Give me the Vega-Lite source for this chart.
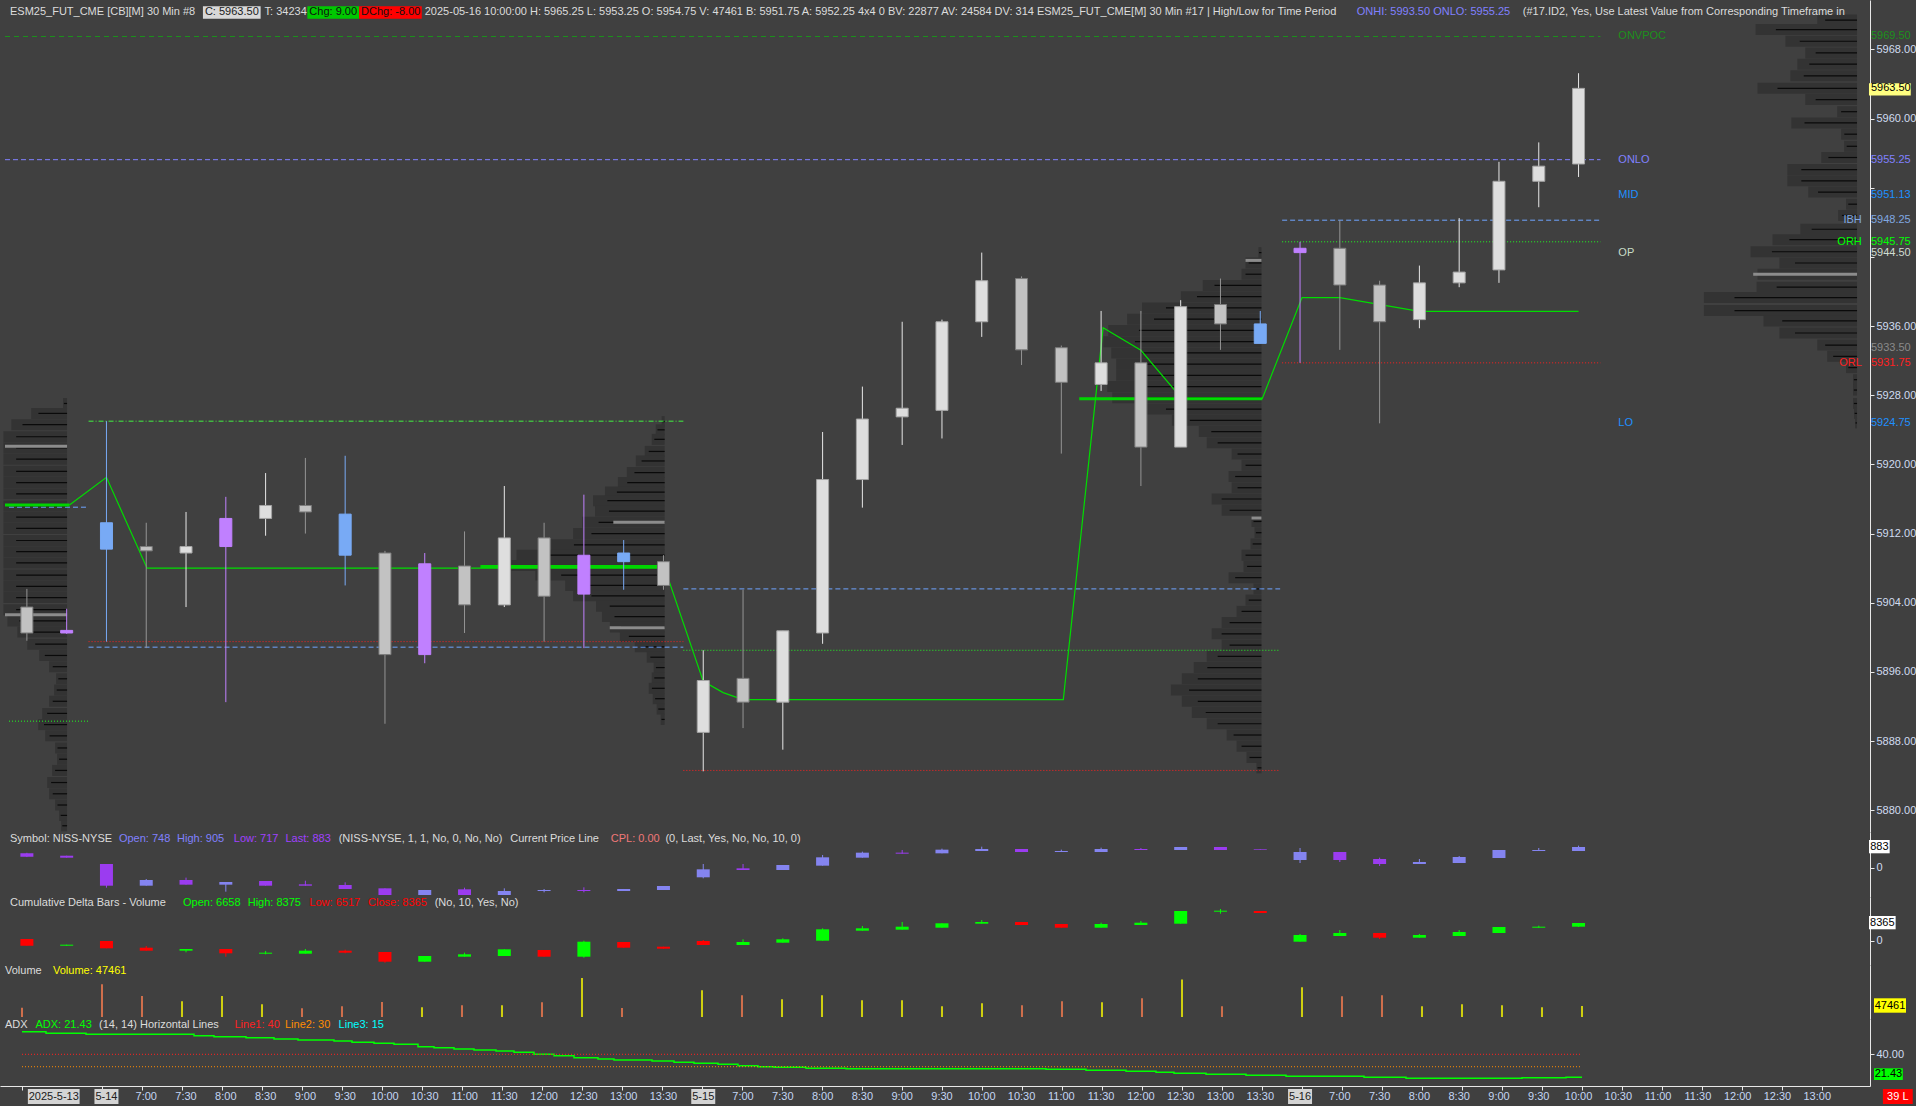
{
"$schema":"https://vega.github.io/schema/vega-lite/v6.json",
"background":"#404040",
"padding":0,
"autosize":{"type":"pad"},
"spacing":0,
"bounds":"flush",
"config":{"view":{"stroke":null},"text":{"font":"Liberation Sans","fontSize":11},
"axis":{"labelFont":"Liberation Sans","labelFontSize":11,"labelColor":"#d0dcf0","domainColor":"#e8e8e8","tickColor":"#e8e8e8","tickSize":4,"labelPadding":2,"grid":false,"labelOverlap":false,"labelFlush":false}},
"datasets":{
"candles":[
{"i":0,"o":5903.5,"h":5905.6,"l":5899.6,"c":5900.5,"k":"down"},
{"i":1,"o":5900.8,"h":5903.3,"l":5900.4,"c":5900.5,"k":"purple"},
{"i":2,"o":5910.2,"h":5925.0,"l":5899.5,"c":5913.25,"k":"blue"},
{"i":3,"o":5910.5,"h":5913.25,"l":5898.75,"c":5910.0,"k":"down"},
{"i":4,"o":5909.75,"h":5914.5,"l":5903.5,"c":5910.5,"k":"up"},
{"i":5,"o":5913.75,"h":5916.25,"l":5892.5,"c":5910.5,"k":"purple"},
{"i":6,"o":5913.75,"h":5919.0,"l":5911.75,"c":5915.25,"k":"up"},
{"i":7,"o":5915.25,"h":5920.75,"l":5912.0,"c":5914.5,"k":"down"},
{"i":8,"o":5909.5,"h":5921.0,"l":5906.0,"c":5914.25,"k":"blue"},
{"i":9,"o":5909.75,"h":5910.0,"l":5890.0,"c":5898.0,"k":"down"},
{"i":10,"o":5908.5,"h":5909.75,"l":5897.0,"c":5898.0,"k":"purple"},
{"i":11,"o":5908.25,"h":5912.25,"l":5900.5,"c":5903.75,"k":"down"},
{"i":12,"o":5903.75,"h":5917.5,"l":5903.5,"c":5911.5,"k":"up"},
{"i":13,"o":5911.5,"h":5913.25,"l":5899.5,"c":5904.75,"k":"down"},
{"i":14,"o":5909.5,"h":5916.5,"l":5898.75,"c":5905.0,"k":"purple"},
{"i":15,"o":5908.75,"h":5911.25,"l":5905.5,"c":5909.75,"k":"blue"},
{"i":16,"o":5908.75,"h":5909.5,"l":5905.5,"c":5906.0,"k":"down"},
{"i":17,"o":5889.0,"h":5898.5,"l":5884.5,"c":5895.0,"k":"up"},
{"i":18,"o":5895.25,"h":5905.5,"l":5889.5,"c":5892.5,"k":"down"},
{"i":19,"o":5892.5,"h":5900.75,"l":5887.0,"c":5900.75,"k":"up"},
{"i":20,"o":5900.5,"h":5923.75,"l":5899.25,"c":5918.25,"k":"up"},
{"i":21,"o":5918.25,"h":5929.0,"l":5915.0,"c":5925.25,"k":"up"},
{"i":22,"o":5925.5,"h":5936.5,"l":5922.25,"c":5926.5,"k":"up"},
{"i":23,"o":5926.25,"h":5936.75,"l":5923.0,"c":5936.5,"k":"up"},
{"i":24,"o":5936.5,"h":5944.5,"l":5934.75,"c":5941.25,"k":"up"},
{"i":25,"o":5941.5,"h":5941.75,"l":5931.5,"c":5933.25,"k":"down"},
{"i":26,"o":5933.5,"h":5933.75,"l":5921.25,"c":5929.5,"k":"down"},
{"i":27,"o":5929.25,"h":5937.75,"l":5928.5,"c":5931.75,"k":"up"},
{"i":28,"o":5931.75,"h":5937.75,"l":5917.5,"c":5922.0,"k":"down"},
{"i":29,"o":5922.0,"h":5939.0,"l":5922.0,"c":5938.25,"k":"up"},
{"i":30,"o":5938.5,"h":5941.5,"l":5933.25,"c":5936.25,"k":"down"},
{"i":31,"o":5936.25,"h":5937.75,"l":5934.0,"c":5934.0,"k":"blue"},
{"i":32,"o":5945.0,"h":5945.75,"l":5931.75,"c":5944.5,"k":"purple"},
{"i":33,"o":5945.0,"h":5948.25,"l":5933.25,"c":5940.75,"k":"down"},
{"i":34,"o":5940.75,"h":5941.25,"l":5924.75,"c":5936.5,"k":"down"},
{"i":35,"o":5936.75,"h":5943.0,"l":5935.75,"c":5941.0,"k":"up"},
{"i":36,"o":5941.0,"h":5948.5,"l":5940.5,"c":5942.25,"k":"up"},
{"i":37,"o":5942.5,"h":5955.0,"l":5941.0,"c":5952.75,"k":"up"},
{"i":38,"o":5952.75,"h":5957.25,"l":5949.75,"c":5954.5,"k":"up"},
{"i":39,"o":5954.75,"h":5965.25,"l":5953.25,"c":5963.5,"k":"up"}],
"niss":[
{"i":0,"o":618,"h":640,"l":460,"c":475,"k":"d"},
{"i":1,"o":517,"h":517,"l":433,"c":433,"k":"d"},
{"i":2,"o":168,"h":168,"l":-828,"c":-744,"k":"d"},
{"i":3,"o":-744,"h":-463,"l":-744,"c":-505,"k":"u"},
{"i":4,"o":-505,"h":-406,"l":-701,"c":-701,"k":"d"},
{"i":5,"o":-701,"h":-589,"l":-995,"c":-589,"k":"u"},
{"i":6,"o":-547,"h":-547,"l":-744,"c":-744,"k":"d"},
{"i":7,"o":-687,"h":-533,"l":-744,"c":-744,"k":"d"},
{"i":8,"o":-715,"h":-603,"l":-883,"c":-883,"k":"d"},
{"i":9,"o":-855,"h":-855,"l":-1135,"c":-1135,"k":"d"},
{"i":10,"o":-1135,"h":-925,"l":-1135,"c":-925,"k":"u"},
{"i":11,"o":-897,"h":-827,"l":-1135,"c":-1135,"k":"d"},
{"i":12,"o":-1135,"h":-855,"l":-1135,"c":-967,"k":"u"},
{"i":13,"o":-967,"h":-883,"l":-1023,"c":-925,"k":"u"},
{"i":14,"o":-925,"h":-813,"l":-1023,"c":-967,"k":"d"},
{"i":15,"o":-967,"h":-883,"l":-967,"c":-883,"k":"u"},
{"i":16,"o":-925,"h":-757,"l":-925,"c":-757,"k":"u"},
{"i":17,"o":-392,"h":168,"l":-434,"c":-56,"k":"u"},
{"i":18,"o":-14,"h":168,"l":-84,"c":-84,"k":"d"},
{"i":19,"o":-84,"h":126,"l":-84,"c":126,"k":"u"},
{"i":20,"o":98,"h":547,"l":98,"c":449,"k":"u"},
{"i":21,"o":434,"h":687,"l":434,"c":645,"k":"u"},
{"i":22,"o":645,"h":757,"l":603,"c":603,"k":"d"},
{"i":23,"o":617,"h":813,"l":617,"c":771,"k":"u"},
{"i":24,"o":715,"h":897,"l":715,"c":799,"k":"u"},
{"i":25,"o":799,"h":799,"l":673,"c":673,"k":"d"},
{"i":26,"o":673,"h":771,"l":673,"c":715,"k":"u"},
{"i":27,"o":673,"h":855,"l":673,"c":799,"k":"u"},
{"i":28,"o":799,"h":841,"l":757,"c":757,"k":"d"},
{"i":29,"o":757,"h":883,"l":757,"c":883,"k":"u"},
{"i":30,"o":883,"h":883,"l":757,"c":757,"k":"d"},
{"i":31,"o":799,"h":799,"l":771,"c":771,"k":"d"},
{"i":32,"o":336,"h":841,"l":210,"c":673,"k":"u"},
{"i":33,"o":673,"h":673,"l":252,"c":336,"k":"d"},
{"i":34,"o":378,"h":434,"l":84,"c":168,"k":"d"},
{"i":35,"o":168,"h":378,"l":168,"c":252,"k":"u"},
{"i":36,"o":210,"h":504,"l":210,"c":462,"k":"u"},
{"i":37,"o":420,"h":757,"l":420,"c":757,"k":"u"},
{"i":38,"o":715,"h":841,"l":715,"c":757,"k":"u"},
{"i":39,"o":715,"h":939,"l":715,"c":883,"k":"u"}],
"cd":[
{"i":0,"o":929,"h":929,"l":-2184,"c":-2184,"k":"d"},
{"i":1,"o":-2184,"h":-1719,"l":-2184,"c":-1719,"k":"u"},
{"i":2,"o":0,"h":0,"l":-3392,"c":-3392,"k":"d"},
{"i":3,"o":-3113,"h":-2324,"l":-4508,"c":-4508,"k":"d"},
{"i":4,"o":-4508,"h":-3718,"l":-5251,"c":-3718,"k":"u"},
{"i":5,"o":-3718,"h":-3718,"l":-7296,"c":-5716,"k":"d"},
{"i":6,"o":-5902,"h":-4647,"l":-6181,"c":-5437,"k":"u"},
{"i":7,"o":-5902,"h":-3718,"l":-5902,"c":-4508,"k":"u"},
{"i":8,"o":-4508,"h":-4043,"l":-5716,"c":-5437,"k":"d"},
{"i":9,"o":-5112,"h":-5112,"l":-10084,"c":-9619,"k":"d"},
{"i":10,"o":-9619,"h":-6970,"l":-9619,"c":-6970,"k":"u"},
{"i":11,"o":-7296,"h":-5437,"l":-7296,"c":-6181,"k":"u"},
{"i":12,"o":-6970,"h":-3857,"l":-6970,"c":-3857,"k":"u"},
{"i":13,"o":-4182,"h":-4182,"l":-7296,"c":-7296,"k":"d"},
{"i":14,"o":-7296,"h":139,"l":-7760,"c":-325,"k":"u"},
{"i":15,"o":-465,"h":-465,"l":-3113,"c":-3113,"k":"d"},
{"i":16,"o":-2649,"h":-2649,"l":-3578,"c":-3578,"k":"d"},
{"i":17,"o":0,"h":465,"l":-1859,"c":-1859,"k":"d"},
{"i":18,"o":-1859,"h":790,"l":-1859,"c":-465,"k":"u"},
{"i":19,"o":-790,"h":1255,"l":-790,"c":790,"k":"u"},
{"i":20,"o":139,"h":5902,"l":139,"c":5437,"k":"u"},
{"i":21,"o":4786,"h":6970,"l":4786,"c":5902,"k":"u"},
{"i":22,"o":5251,"h":8829,"l":5251,"c":6645,"k":"u"},
{"i":23,"o":6181,"h":8225,"l":6181,"c":8225,"k":"u"},
{"i":24,"o":8039,"h":9759,"l":8039,"c":8829,"k":"u"},
{"i":25,"o":8829,"h":8829,"l":7435,"c":7435,"k":"d"},
{"i":26,"o":7900,"h":7900,"l":6181,"c":6181,"k":"d"},
{"i":27,"o":6181,"h":8504,"l":6181,"c":7900,"k":"u"},
{"i":28,"o":7435,"h":9294,"l":7435,"c":8504,"k":"u"},
{"i":29,"o":8039,"h":13941,"l":8039,"c":13941,"k":"u"},
{"i":30,"o":13616,"h":14870,"l":12686,"c":14080,"k":"u"},
{"i":31,"o":13941,"h":13941,"l":13012,"c":13012,"k":"d"},
{"i":32,"o":-325,"h":3253,"l":-325,"c":2788,"k":"u"},
{"i":33,"o":2324,"h":5112,"l":2324,"c":3718,"k":"u"},
{"i":34,"o":3718,"h":3718,"l":929,"c":1534,"k":"d"},
{"i":35,"o":1534,"h":3253,"l":1534,"c":2788,"k":"u"},
{"i":36,"o":2324,"h":5112,"l":2324,"c":4182,"k":"u"},
{"i":37,"o":3718,"h":6506,"l":3718,"c":6506,"k":"u"},
{"i":38,"o":6181,"h":7110,"l":6181,"c":6645,"k":"u"},
{"i":39,"o":6658,"h":8375,"l":6517,"c":8365,"k":"u"}],
"vol":[
{"i":0,"v":40000,"k":"d"},{"i":2,"v":141000,"k":"d"},{"i":3,"v":90600,"k":"d"},{"i":4,"v":67600,"k":"u"},{"i":5,"v":90600,"k":"u"},{"i":6,"v":54700,"k":"u"},{"i":7,"v":37400,"k":"d"},{"i":8,"v":46000,"k":"d"},{"i":9,"v":64700,"k":"d"},{"i":10,"v":41700,"k":"u"},{"i":11,"v":50300,"k":"d"},{"i":12,"v":50300,"k":"u"},{"i":13,"v":63300,"k":"d"},{"i":14,"v":168000,"k":"u"},{"i":15,"v":38800,"k":"d"},
{"i":17,"v":115000,"k":"u"},{"i":18,"v":93500,"k":"d"},{"i":19,"v":76200,"k":"u"},{"i":20,"v":93500,"k":"u"},{"i":21,"v":71900,"k":"u"},{"i":22,"v":71900,"k":"u"},{"i":23,"v":46000,"k":"u"},{"i":24,"v":59000,"k":"u"},{"i":25,"v":50300,"k":"d"},{"i":26,"v":67600,"k":"d"},{"i":27,"v":63300,"k":"u"},{"i":28,"v":80400,"k":"d"},{"i":29,"v":162000,"k":"u"},{"i":30,"v":46000,"k":"d"},
{"i":32,"v":128000,"k":"u"},{"i":33,"v":89000,"k":"d"},{"i":34,"v":93500,"k":"d"},{"i":35,"v":46000,"k":"u"},{"i":36,"v":54700,"k":"u"},{"i":37,"v":50300,"k":"u"},{"i":38,"v":41700,"k":"u"},{"i":39,"v":47461,"k":"u"}],
"adx":[
{"i":0,"a":58.2},{"i":0.6,"a":56.9},{"i":1.6,"a":56.1},{"i":4.3,"a":55.0},{"i":4.8,"a":54.2},{"i":5.6,"a":53.4},{"i":6.3,"a":52.3},{"i":6.9,"a":51.5},{"i":7.8,"a":50.7},{"i":8.25,"a":49.7},{"i":8.8,"a":48.9},{"i":9.3,"a":48.1},{"i":9.9,"a":46.1},{"i":10.3,"a":45.3},{"i":10.8,"a":44.3},{"i":11.3,"a":43.5},{"i":11.85,"a":42.7},{"i":12.3,"a":41.6},{"i":12.8,"a":40.0},{"i":13.3,"a":38.9},{"i":13.8,"a":37.3},{"i":14.4,"a":36.2},{"i":14.8,"a":35.4},{"i":15.75,"a":34.6},{"i":16.3,"a":33.5},{"i":16.8,"a":32.7},{"i":17.4,"a":31.9},{"i":17.9,"a":30.8},{"i":18.4,"a":30.0},{"i":18.8,"a":29.5},{"i":19.6,"a":28.7},{"i":20.6,"a":28.3},{"i":25.6,"a":27.9},{"i":26.6,"a":27.1},{"i":27.6,"a":26.3},{"i":28.35,"a":25.5},{"i":28.8,"a":24.7},{"i":29.6,"a":23.9},{"i":30.6,"a":23.1},{"i":31.6,"a":22.3},{"i":33.55,"a":21.5},{"i":34.6,"a":20.7},{"i":37.5,"a":21.0},{"i":38.6,"a":21.43},{"i":39.0,"a":21.43}],
"poc":[
{"i":1.07,"p":5915.3},{"i":2.0,"p":5918.5},{"i":3.02,"p":5908.0},{"i":16.03,"p":5908.0},{"i":17.0,"p":5894.9},{"i":17.5,"p":5893.6},{"i":18.0,"p":5892.8},{"i":26.05,"p":5892.8},{"i":27.05,"p":5935.8},{"i":28.0,"p":5933.2},{"i":29.03,"p":5927.6},{"i":31.05,"p":5927.6},{"i":32.05,"p":5939.3},{"i":33.0,"p":5939.3},{"i":35.0,"p":5937.7},{"i":39.0,"p":5937.7}],
"pocthick":[{"p":5915.3,"x0":-0.55,"x1":1.07},{"p":5908.2,"x0":11.4,"x1":16.03},{"p":5927.6,"x0":26.45,"x1":31.05}],
"levels":[
{"p":5969.5,"x0":-0.55,"x1":39.55,"k":"onv"},
{"p":5955.25,"x0":-0.55,"x1":39.55,"k":"onlo"},
{"p":5915.05,"x0":-0.45,"x1":1.55,"k":"bdash"},
{"p":5890.3,"x0":-0.45,"x1":1.55,"k":"gdot"},
{"p":5925.0,"x0":1.55,"x1":16.5,"k":"gdd"},
{"p":5899.5,"x0":1.55,"x1":16.5,"k":"rdot"},
{"p":5898.86,"x0":1.55,"x1":16.5,"k":"bdash"},
{"p":5905.6,"x0":16.5,"x1":31.5,"k":"bdash"},
{"p":5898.5,"x0":16.5,"x1":31.5,"k":"gdot"},
{"p":5884.6,"x0":16.5,"x1":31.5,"k":"rdot"},
{"p":5948.25,"x0":31.55,"x1":39.55,"k":"bdash"},
{"p":5945.75,"x0":31.55,"x1":39.55,"k":"gdot"},
{"p":5931.75,"x0":31.55,"x1":39.55,"k":"rdot"}],
"va":[{"p":5922.1,"x0":-0.55,"x1":1.01},{"p":5902.6,"x0":-0.55,"x1":1.01},{"p":5913.3,"x0":14.74,"x1":16.03},{"p":5901.1,"x0":14.65,"x1":16.03},{"p":5943.6,"x0":30.63,"x1":31.03},{"p":5913.8,"x0":30.78,"x1":31.03},{"p":5942.0,"x0":43.39,"x1":46.0}],
"prof":[
{"d":13,"p":5927.05,"w":4},{"d":13,"p":5925.9,"w":36},{"d":13,"p":5924.6,"w":56},{"d":13,"p":5923.2,"w":64},{"d":13,"p":5921.9,"w":64},{"d":13,"p":5920.6,"w":64},{"d":13,"p":5919.2,"w":64},{"d":13,"p":5917.9,"w":64},{"d":13,"p":5916.6,"w":64},{"d":13,"p":5915.2,"w":64},{"d":13,"p":5913.9,"w":64},{"d":13,"p":5912.6,"w":64},{"d":13,"p":5911.2,"w":64},{"d":13,"p":5909.9,"w":64},{"d":13,"p":5908.6,"w":64},{"d":13,"p":5907.2,"w":64},{"d":13,"p":5905.9,"w":64},{"d":13,"p":5904.6,"w":64},{"d":13,"p":5903.2,"w":64},{"d":13,"p":5901.9,"w":60},{"d":13,"p":5900.6,"w":50},{"d":13,"p":5899.2,"w":40},{"d":13,"p":5897.9,"w":28},{"d":13,"p":5896.6,"w":18},{"d":13,"p":5895.2,"w":11},{"d":13,"p":5893.9,"w":13},{"d":13,"p":5892.6,"w":18},{"d":13,"p":5891.2,"w":25},{"d":13,"p":5889.9,"w":29},{"d":13,"p":5888.6,"w":22},{"d":13,"p":5887.2,"w":12},{"d":13,"p":5885.9,"w":10},{"d":13,"p":5884.6,"w":15},{"d":13,"p":5883.2,"w":20},{"d":13,"p":5881.9,"w":18},{"d":13,"p":5880.6,"w":12},{"d":13,"p":5879.4,"w":8},{"d":13,"p":5878.2,"w":6},
{"d":14,"p":5924.95,"w":3},{"d":14,"p":5924.0,"w":9},{"d":14,"p":5922.9,"w":13},{"d":14,"p":5921.5,"w":20},{"d":14,"p":5920.4,"w":29},{"d":14,"p":5919.05,"w":38},{"d":14,"p":5917.9,"w":47},{"d":14,"p":5916.8,"w":60},{"d":14,"p":5915.8,"w":72},{"d":14,"p":5914.6,"w":70},{"d":14,"p":5913.3,"w":83},{"d":14,"p":5912.0,"w":92},{"d":14,"p":5910.7,"w":114},{"d":14,"p":5909.5,"w":149},{"d":14,"p":5908.3,"w":154},{"d":14,"p":5907.2,"w":130},{"d":14,"p":5906.0,"w":100},{"d":14,"p":5904.8,"w":92},{"d":14,"p":5903.6,"w":69},{"d":14,"p":5902.4,"w":63},{"d":14,"p":5901.2,"w":55},{"d":14,"p":5900.1,"w":45},{"d":14,"p":5898.9,"w":30},{"d":14,"p":5897.7,"w":18},{"d":14,"p":5896.5,"w":11},{"d":14,"p":5895.3,"w":13},{"d":14,"p":5894.1,"w":16},{"d":14,"p":5892.9,"w":12},{"d":14,"p":5891.7,"w":8},{"d":14,"p":5890.5,"w":4},
{"d":15,"p":5944.5,"w":3},{"d":15,"p":5943.3,"w":16},{"d":15,"p":5942.0,"w":20},{"d":15,"p":5940.7,"w":59},{"d":15,"p":5939.4,"w":81},{"d":15,"p":5938.1,"w":120},{"d":15,"p":5936.8,"w":135},{"d":15,"p":5935.5,"w":154},{"d":15,"p":5934.2,"w":159},{"d":15,"p":5932.9,"w":151},{"d":15,"p":5931.6,"w":146},{"d":15,"p":5930.3,"w":146},{"d":15,"p":5929.0,"w":155},{"d":15,"p":5927.7,"w":150},{"d":15,"p":5926.4,"w":120},{"d":15,"p":5925.1,"w":90},{"d":15,"p":5923.8,"w":63},{"d":15,"p":5922.5,"w":55},{"d":15,"p":5921.2,"w":30},{"d":15,"p":5919.9,"w":20},{"d":15,"p":5918.6,"w":33},{"d":15,"p":5917.3,"w":30},{"d":15,"p":5916.0,"w":50},{"d":15,"p":5914.7,"w":40},{"d":15,"p":5913.4,"w":10},{"d":15,"p":5912.1,"w":7},{"d":15,"p":5910.8,"w":11},{"d":15,"p":5909.5,"w":20},{"d":15,"p":5908.2,"w":18},{"d":15,"p":5906.9,"w":33},{"d":15,"p":5905.6,"w":8},{"d":15,"p":5904.3,"w":16},{"d":15,"p":5903.0,"w":25},{"d":15,"p":5901.7,"w":40},{"d":15,"p":5900.4,"w":50},{"d":15,"p":5899.1,"w":40},{"d":15,"p":5897.8,"w":55},{"d":15,"p":5896.5,"w":68},{"d":15,"p":5895.2,"w":80},{"d":15,"p":5893.9,"w":91},{"d":15,"p":5892.6,"w":80},{"d":15,"p":5891.3,"w":70},{"d":15,"p":5890.0,"w":55},{"d":15,"p":5888.7,"w":35},{"d":15,"p":5887.4,"w":25},{"d":15,"p":5886.1,"w":15},{"d":15,"p":5884.9,"w":5},
{"d":16,"p":5971.4,"w":40},{"d":16,"p":5970.3,"w":102},{"d":16,"p":5968.95,"w":72},{"d":16,"p":5967.6,"w":52},{"d":16,"p":5966.3,"w":60},{"d":16,"p":5964.95,"w":67},{"d":16,"p":5963.5,"w":100},{"d":16,"p":5962.2,"w":52},{"d":16,"p":5960.8,"w":20},{"d":16,"p":5959.5,"w":66},{"d":16,"p":5958.2,"w":16},{"d":16,"p":5956.8,"w":13},{"d":16,"p":5955.5,"w":36},{"d":16,"p":5954.1,"w":70},{"d":16,"p":5952.8,"w":70},{"d":16,"p":5951.5,"w":49},{"d":16,"p":5950.1,"w":11},{"d":16,"p":5948.8,"w":19},{"d":16,"p":5947.2,"w":57},{"d":16,"p":5946.0,"w":85},{"d":16,"p":5944.6,"w":107},{"d":16,"p":5943.3,"w":78},{"d":16,"p":5942.0,"w":100},{"d":16,"p":5940.5,"w":101},{"d":16,"p":5939.3,"w":154},{"d":16,"p":5937.8,"w":154},{"d":16,"p":5936.6,"w":94},{"d":16,"p":5935.2,"w":78},{"d":16,"p":5933.8,"w":40},{"d":16,"p":5932.5,"w":30},{"d":16,"p":5931.2,"w":11},{"d":16,"p":5929.8,"w":4},{"d":16,"p":5928.6,"w":4},{"d":16,"p":5927.05,"w":4},{"d":16,"p":5925.9,"w":3},{"d":16,"p":5924.8,"w":2}],
"names":[{"p":5969.5,"t":"ONVPOC","k":"onv"},{"p":5955.25,"t":"ONLO","k":"onlo"},{"p":5951.13,"t":"MID","k":"mid"},{"p":5944.5,"t":"OP","k":"op"},{"p":5924.75,"t":"LO","k":"lo"}],
"names2":[{"p":5948.25,"t":"IBH","k":"ibh"},{"p":5945.75,"t":"ORH","k":"orh"},{"p":5931.75,"t":"ORL","k":"orl"}],
"rlab":[{"p":5969.5,"t":"5969.50","k":"onv"},{"p":5963.5,"t":"5963.50","k":"cur"},{"p":5955.25,"t":"5955.25","k":"onlo"},{"p":5951.13,"t":"5951.13","k":"mid"},{"p":5948.25,"t":"5948.25","k":"ibh"},{"p":5945.75,"t":"5945.75","k":"orh"},{"p":5944.5,"t":"5944.50","k":"op"},{"p":5933.5,"t":"5933.50","k":"grey"},{"p":5931.75,"t":"5931.75","k":"orl"},{"p":5924.75,"t":"5924.75","k":"lo"}],
"xl":[{"i":2,"t":"5-14","k":"d"},{"i":3,"t":"7:00","k":"t"},{"i":4,"t":"7:30","k":"t"},{"i":5,"t":"8:00","k":"t"},{"i":6,"t":"8:30","k":"t"},{"i":7,"t":"9:00","k":"t"},{"i":8,"t":"9:30","k":"t"},{"i":9,"t":"10:00","k":"t"},{"i":10,"t":"10:30","k":"t"},{"i":11,"t":"11:00","k":"t"},{"i":12,"t":"11:30","k":"t"},{"i":13,"t":"12:00","k":"t"},{"i":14,"t":"12:30","k":"t"},{"i":15,"t":"13:00","k":"t"},{"i":16,"t":"13:30","k":"t"},
{"i":17,"t":"5-15","k":"d"},{"i":18,"t":"7:00","k":"t"},{"i":19,"t":"7:30","k":"t"},{"i":20,"t":"8:00","k":"t"},{"i":21,"t":"8:30","k":"t"},{"i":22,"t":"9:00","k":"t"},{"i":23,"t":"9:30","k":"t"},{"i":24,"t":"10:00","k":"t"},{"i":25,"t":"10:30","k":"t"},{"i":26,"t":"11:00","k":"t"},{"i":27,"t":"11:30","k":"t"},{"i":28,"t":"12:00","k":"t"},{"i":29,"t":"12:30","k":"t"},{"i":30,"t":"13:00","k":"t"},{"i":31,"t":"13:30","k":"t"},
{"i":32,"t":"5-16","k":"d"},{"i":33,"t":"7:00","k":"t"},{"i":34,"t":"7:30","k":"t"},{"i":35,"t":"8:00","k":"t"},{"i":36,"t":"8:30","k":"t"},{"i":37,"t":"9:00","k":"t"},{"i":38,"t":"9:30","k":"t"},{"i":39,"t":"10:00","k":"t"},{"i":40,"t":"10:30","k":"t"},{"i":41,"t":"11:00","k":"t"},{"i":42,"t":"11:30","k":"t"},{"i":43,"t":"12:00","k":"t"},{"i":44,"t":"12:30","k":"t"},{"i":45,"t":"13:00","k":"t"}]
},
"vconcat":[
{"width":1870,"height":832,
"resolve":{"scale":{"color":"independent","fill":"independent","stroke":"independent","strokeDash":"independent"}},
"layer":[
{"data":{"name":"prof"},"transform":[{"calculate":"datum.d==13?1.01:(datum.d==14?16.03:(datum.d==15?31.03:46.0))","as":"e"},{"calculate":"datum.e-datum.w/40","as":"xs"}],
"mark":{"type":"bar","orient":"horizontal","size":11,"color":"#333333","clip":true},
"encoding":{"x":{"field":"xs","type":"quantitative","scale":{"domain":[-0.55,46.2],"nice":false,"zero":false},"axis":{"domain":false,"ticks":false,"labels":false,"grid":false,"title":null}},"x2":{"field":"e"},
"y":{"field":"p","type":"quantitative","scale":{"domain":[5878.057,5973.143],"nice":false,"zero":false},
"axis":{"orient":"right","values":[5880,5884,5888,5892,5896,5900,5904,5908,5912,5916,5920,5924,5928,5932,5936,5940,5944,5948,5952,5956,5960,5964,5968],"format":".2f","labelExpr":"indexof([5964,5956,5952,5948,5944,5932,5924], datum.value) >= 0 ? '' : datum.label","title":null,"domain":true,"ticks":true,"labels":true,"grid":false}}}},
{"data":{"name":"prof"},"transform":[{"calculate":"datum.d==13?1.01:(datum.d==14?16.03:(datum.d==15?31.03:46.0))","as":"e"},{"calculate":"datum.e-datum.w*0.8/40","as":"xs"}],
"mark":{"type":"rule","color":"#0a0a0a","strokeWidth":1.2,"clip":true},
"encoding":{"x":{"field":"xs","type":"quantitative"},"x2":{"field":"e"},"y":{"field":"p","type":"quantitative"}}},
{"data":{"name":"va"},"mark":{"type":"rule","color":"#8c8c8c","strokeWidth":3,"clip":true},
"encoding":{"x":{"field":"x0","type":"quantitative"},"x2":{"field":"x1"},"y":{"field":"p","type":"quantitative"}}},
{"data":{"name":"levels"},"mark":{"type":"rule","strokeWidth":1,"clip":true},
"encoding":{"x":{"field":"x0","type":"quantitative"},"x2":{"field":"x1"},"y":{"field":"p","type":"quantitative"},
"color":{"field":"k","type":"nominal","scale":{"domain":["onv","onlo","bdash","gdot","rdot","gdd"],"range":["#1c901c","#8080ff","#6ea4ff","#20ff20","#ff2020","#40f040"]},"legend":null},
"strokeDash":{"field":"k","type":"nominal","scale":{"domain":["onv","onlo","bdash","gdot","rdot","gdd"],"range":[[5,4],[5,3],[5,3],[1,2],[1,2],[5,2,1,2]]},"legend":null}}},
{"data":{"name":"pocthick"},"mark":{"type":"rule","color":"#00d400","strokeWidth":3,"clip":true},
"encoding":{"x":{"field":"x0","type":"quantitative"},"x2":{"field":"x1"},"y":{"field":"p","type":"quantitative"}}},
{"data":{"name":"poc"},"mark":{"type":"line","color":"#00dd00","strokeWidth":1.2},
"encoding":{"x":{"field":"i","type":"quantitative"},"y":{"field":"p","type":"quantitative"}}},
{"data":{"name":"candles"},"mark":{"type":"rule","strokeWidth":1},
"encoding":{"x":{"field":"i","type":"quantitative"},"y":{"field":"l","type":"quantitative"},"y2":{"field":"h"},
"color":{"field":"k","type":"nominal","scale":{"domain":["up","down","blue","purple"],"range":["#e6e6e6","#949494","#78aaf5","#c080ff"]},"legend":null}}},
{"data":{"name":"candles"},"mark":{"type":"bar","orient":"vertical","size":12,"strokeWidth":1},
"encoding":{"x":{"field":"i","type":"quantitative"},"y":{"field":"o","type":"quantitative"},"y2":{"field":"c"},
"fill":{"field":"k","type":"nominal","scale":{"domain":["up","down","blue","purple"],"range":["#dedede","#c2c2c2","#78aaf5","#c080ff"]},"legend":null},
"stroke":{"field":"k","type":"nominal","scale":{"domain":["up","down","blue","purple"],"range":["#a4a4a4","#7c7c7c","#78aaf5","#c080ff"]},"legend":null}}},
{"data":{"name":"names"},"mark":{"type":"text","align":"left","baseline":"middle"},
"encoding":{"x":{"datum":40.0,"type":"quantitative"},"y":{"field":"p","type":"quantitative"},"text":{"field":"t"},
"color":{"field":"k","type":"nominal","scale":{"domain":["onv","onlo","mid","op","lo"],"range":["#1c901c","#8080ff","#1e90ff","#c8dcc8","#1e90ff"]},"legend":null}}},
{"data":{"name":"names2"},"mark":{"type":"text","align":"right","baseline":"middle"},
"encoding":{"x":{"datum":46.12,"type":"quantitative"},"y":{"field":"p","type":"quantitative"},"text":{"field":"t"},
"color":{"field":"k","type":"nominal","scale":{"domain":["ibh","orh","orl"],"range":["#80a8e0","#00ff00","#ff2020"]},"legend":null}}},
{"data":{"values":[{}]},"mark":{"type":"rect","color":"#ffff80"},
"encoding":{"x":{"datum":46.3,"type":"quantitative"},"x2":{"datum":47.35},"y":{"datum":5964.08,"type":"quantitative"},"y2":{"datum":5962.66}}},
{"data":{"name":"rlab"},"mark":{"type":"text","align":"left","baseline":"middle"},
"encoding":{"x":{"datum":46.35,"type":"quantitative"},"y":{"field":"p","type":"quantitative"},"text":{"field":"t"},
"color":{"field":"k","type":"nominal","scale":{"domain":["onv","cur","onlo","mid","ibh","orh","op","grey","orl","lo"],"range":["#1c901c","#000000","#8080ff","#1e90ff","#80a8e0","#00ff00","#d0dcd0","#8a8a8a","#ff2020","#1e90ff"]},"legend":null}}},
{"data":{"values":[{}]},"mark":{"type":"rect","color":"#d8d8d8"},"encoding":{"x":{"datum":4.425,"type":"quantitative"},"x2":{"datum":5.875},"y":{"datum":5973.0,"type":"quantitative"},"y2":{"datum":5971.55}}},
{"data":{"values":[{}]},"mark":{"type":"rect","color":"#00c800"},"encoding":{"x":{"datum":7.05,"type":"quantitative"},"x2":{"datum":8.35},"y":{"datum":5973.0,"type":"quantitative"},"y2":{"datum":5971.55}}},
{"data":{"values":[{}]},"mark":{"type":"rect","color":"#ff0000"},"encoding":{"x":{"datum":8.35,"type":"quantitative"},"x2":{"datum":9.925},"y":{"datum":5973.0,"type":"quantitative"},"y2":{"datum":5971.55}}},
{"data":{"values":[{}]},"mark":{"type":"text","align":"left","baseline":"middle","color":"#dcdcdc"},"encoding":{"x":{"datum":-0.425,"type":"quantitative"},"y":{"datum":5972.3,"type":"quantitative"},"text":{"value":"ESM25_FUT_CME [CB][M]  30 Min  #8"}}},
{"data":{"values":[{}]},"mark":{"type":"text","align":"left","baseline":"middle","color":"#202020"},"encoding":{"x":{"datum":4.475,"type":"quantitative"},"y":{"datum":5972.3,"type":"quantitative"},"text":{"value":"C: 5963.50"}}},
{"data":{"values":[{}]},"mark":{"type":"text","align":"left","baseline":"middle","color":"#dcdcdc"},"encoding":{"x":{"datum":5.975,"type":"quantitative"},"y":{"datum":5972.3,"type":"quantitative"},"text":{"value":"T: 34234"}}},
{"data":{"values":[{}]},"mark":{"type":"text","align":"left","baseline":"middle","color":"#101010"},"encoding":{"x":{"datum":7.1,"type":"quantitative"},"y":{"datum":5972.3,"type":"quantitative"},"text":{"value":"Chg: 9.00"}}},
{"data":{"values":[{}]},"mark":{"type":"text","align":"left","baseline":"middle","color":"#101010"},"encoding":{"x":{"datum":8.4,"type":"quantitative"},"y":{"datum":5972.3,"type":"quantitative"},"text":{"value":"DChg: -8.00"}}},
{"data":{"values":[{}]},"mark":{"type":"text","align":"left","baseline":"middle","color":"#dcdcdc"},"encoding":{"x":{"datum":10.0,"type":"quantitative"},"y":{"datum":5972.3,"type":"quantitative"},"text":{"value":"2025-05-16 10:00:00 H: 5965.25 L: 5953.25 O: 5954.75 V: 47461 B: 5951.75 A: 5952.25 4x4 0 BV: 22877 AV: 24584 DV: 314 ESM25_FUT_CME[M]  30 Min  #17 | High/Low for Time Period"}}},
{"data":{"values":[{}]},"mark":{"type":"text","align":"left","baseline":"middle","color":"#8080ff"},"encoding":{"x":{"datum":33.425,"type":"quantitative"},"y":{"datum":5972.3,"type":"quantitative"},"text":{"value":"ONHI: 5993.50  ONLO: 5955.25"}}},
{"data":{"values":[{}]},"mark":{"type":"text","align":"left","baseline":"middle","color":"#dcdcdc","clip":true},"encoding":{"x":{"datum":37.6,"type":"quantitative"},"y":{"datum":5972.3,"type":"quantitative"},"text":{"value":"(#17.ID2, Yes, Use Latest Value from Corresponding Timeframe in"}}}
]},
{"width":1870,"height":65,
"resolve":{"scale":{"color":"independent"}},
"layer":[
{"data":{"name":"niss"},"mark":{"type":"rule","strokeWidth":1},
"encoding":{"x":{"field":"i","type":"quantitative","scale":{"domain":[-0.55,46.2],"nice":false,"zero":false},"axis":{"domain":false,"ticks":false,"labels":false,"grid":false,"title":null}},
"y":{"field":"l","type":"quantitative","scale":{"domain":[-1219.5,1513.8],"nice":false,"zero":false},"axis":{"orient":"right","values":[0],"format":"d","title":null,"domain":true,"ticks":true,"labels":true,"grid":false}},"y2":{"field":"h"},
"color":{"field":"k","type":"nominal","scale":{"domain":["u","d"],"range":["#8484f0","#9b3cf0"]},"legend":null}}},
{"data":{"name":"niss"},"mark":{"type":"bar","orient":"vertical","size":13},
"encoding":{"x":{"field":"i","type":"quantitative"},"y":{"field":"o","type":"quantitative"},"y2":{"field":"c"},
"color":{"field":"k","type":"nominal","scale":{"domain":["u","d"],"range":["#8484f0","#9b3cf0"]},"legend":null}}},
{"data":{"values":[{}]},"mark":{"type":"rect","color":"#ffffff"},"encoding":{"x":{"datum":46.3,"type":"quantitative"},"x2":{"datum":46.82},"y":{"datum":1177,"type":"quantitative"},"y2":{"datum":618}}},
{"data":{"values":[{}]},"mark":{"type":"text","align":"center","baseline":"middle","color":"#000000"},"encoding":{"x":{"datum":46.56,"type":"quantitative"},"y":{"datum":896,"type":"quantitative"},"text":{"value":"883"}}},
{"data":{"values":[{}]},"mark":{"type":"text","align":"left","baseline":"middle","color":"#dcdcdc"},"encoding":{"x":{"datum":-0.425,"type":"quantitative"},"y":{"datum":1219,"type":"quantitative"},"text":{"value":"Symbol: NISS-NYSE"}}},
{"data":{"values":[{}]},"mark":{"type":"text","align":"left","baseline":"middle","color":"#8080ff"},"encoding":{"x":{"datum":2.3125,"type":"quantitative"},"y":{"datum":1219,"type":"quantitative"},"text":{"value":"Open: 748"}}},
{"data":{"values":[{}]},"mark":{"type":"text","align":"left","baseline":"middle","color":"#8080ff"},"encoding":{"x":{"datum":3.775,"type":"quantitative"},"y":{"datum":1219,"type":"quantitative"},"text":{"value":"High: 905"}}},
{"data":{"values":[{}]},"mark":{"type":"text","align":"left","baseline":"middle","color":"#a040ff"},"encoding":{"x":{"datum":5.2,"type":"quantitative"},"y":{"datum":1219,"type":"quantitative"},"text":{"value":"Low: 717"}}},
{"data":{"values":[{}]},"mark":{"type":"text","align":"left","baseline":"middle","color":"#a040ff"},"encoding":{"x":{"datum":6.5,"type":"quantitative"},"y":{"datum":1219,"type":"quantitative"},"text":{"value":"Last: 883"}}},
{"data":{"values":[{}]},"mark":{"type":"text","align":"left","baseline":"middle","color":"#dcdcdc"},"encoding":{"x":{"datum":7.8375,"type":"quantitative"},"y":{"datum":1219,"type":"quantitative"},"text":{"value":"(NISS-NYSE, 1, 1, No, 0, No, No)"}}},
{"data":{"values":[{}]},"mark":{"type":"text","align":"left","baseline":"middle","color":"#dcdcdc"},"encoding":{"x":{"datum":12.15,"type":"quantitative"},"y":{"datum":1219,"type":"quantitative"},"text":{"value":"Current Price Line"}}},
{"data":{"values":[{}]},"mark":{"type":"text","align":"left","baseline":"middle","color":"#f07878"},"encoding":{"x":{"datum":14.675,"type":"quantitative"},"y":{"datum":1219,"type":"quantitative"},"text":{"value":"CPL: 0.00"}}},
{"data":{"values":[{}]},"mark":{"type":"text","align":"left","baseline":"middle","color":"#dcdcdc"},"encoding":{"x":{"datum":16.05,"type":"quantitative"},"y":{"datum":1219,"type":"quantitative"},"text":{"value":"(0, Last, Yes, No, No, 10, 0)"}}}
]},
{"width":1870,"height":68,
"resolve":{"scale":{"color":"independent"}},
"layer":[
{"data":{"name":"cd"},"mark":{"type":"rule","strokeWidth":1},
"encoding":{"x":{"field":"i","type":"quantitative","scale":{"domain":[-0.55,46.2],"nice":false,"zero":false},"axis":{"domain":false,"ticks":false,"labels":false,"grid":false,"title":null}},
"y":{"field":"l","type":"quantitative","scale":{"domain":[-11153,20447],"nice":false,"zero":false},"axis":{"orient":"right","values":[0],"format":"d","title":null,"domain":true,"ticks":true,"labels":true,"grid":false}},"y2":{"field":"h"},
"color":{"field":"k","type":"nominal","scale":{"domain":["u","d"],"range":["#00ff00","#ff0000"]},"legend":null}}},
{"data":{"name":"cd"},"mark":{"type":"bar","orient":"vertical","size":13},
"encoding":{"x":{"field":"i","type":"quantitative"},"y":{"field":"o","type":"quantitative"},"y2":{"field":"c"},
"color":{"field":"k","type":"nominal","scale":{"domain":["u","d"],"range":["#00ff00","#ff0000"]},"legend":null}}},
{"data":{"values":[{}]},"mark":{"type":"rect","color":"#ffffff"},"encoding":{"x":{"datum":46.3,"type":"quantitative"},"x2":{"datum":46.97},"y":{"datum":11618,"type":"quantitative"},"y2":{"datum":5437}}},
{"data":{"values":[{}]},"mark":{"type":"text","align":"center","baseline":"middle","color":"#000000"},"encoding":{"x":{"datum":46.635,"type":"quantitative"},"y":{"datum":8527,"type":"quantitative"},"text":{"value":"8365"}}},
{"data":{"values":[{}]},"mark":{"type":"text","align":"left","baseline":"middle","color":"#dcdcdc"},"encoding":{"x":{"datum":-0.425,"type":"quantitative"},"y":{"datum":17659,"type":"quantitative"},"text":{"value":"Cumulative Delta Bars - Volume"}}},
{"data":{"values":[{}]},"mark":{"type":"text","align":"left","baseline":"middle","color":"#00ff00"},"encoding":{"x":{"datum":3.925,"type":"quantitative"},"y":{"datum":17659,"type":"quantitative"},"text":{"value":"Open: 6658"}}},
{"data":{"values":[{}]},"mark":{"type":"text","align":"left","baseline":"middle","color":"#00ff00"},"encoding":{"x":{"datum":5.55,"type":"quantitative"},"y":{"datum":17659,"type":"quantitative"},"text":{"value":"High: 8375"}}},
{"data":{"values":[{}]},"mark":{"type":"text","align":"left","baseline":"middle","color":"#ff0000"},"encoding":{"x":{"datum":7.1,"type":"quantitative"},"y":{"datum":17659,"type":"quantitative"},"text":{"value":"Low: 6517"}}},
{"data":{"values":[{}]},"mark":{"type":"text","align":"left","baseline":"middle","color":"#ff0000"},"encoding":{"x":{"datum":8.575,"type":"quantitative"},"y":{"datum":17659,"type":"quantitative"},"text":{"value":"Close: 8365"}}},
{"data":{"values":[{}]},"mark":{"type":"text","align":"left","baseline":"middle","color":"#dcdcdc"},"encoding":{"x":{"datum":10.25,"type":"quantitative"},"y":{"datum":17659,"type":"quantitative"},"text":{"value":"(No, 10, Yes, No)"}}}
]},
{"width":1870,"height":54,
"resolve":{"scale":{"color":"independent"}},
"layer":[
{"data":{"name":"vol"},"mark":{"type":"rule","strokeWidth":1.5},
"encoding":{"x":{"field":"i","type":"quantitative","scale":{"domain":[-0.55,46.2],"nice":false,"zero":false},"axis":{"domain":false,"ticks":false,"labels":false,"grid":false,"title":null}},
"y":{"field":"v","type":"quantitative","scale":{"domain":[-8630,224380],"nice":false,"zero":false},"axis":{"orient":"right","values":[0],"labels":false,"ticks":false,"title":null,"domain":true,"grid":false}},"y2":{"datum":0},
"color":{"field":"k","type":"nominal","scale":{"domain":["u","d"],"range":["#ffff00","#ff7f50"]},"legend":null}}},
{"data":{"values":[{}]},"mark":{"type":"rect","color":"#ffff00"},"encoding":{"x":{"datum":46.3,"type":"quantitative"},"x2":{"datum":47.1},"y":{"datum":80690,"type":"quantitative"},"y2":{"datum":18555}}},
{"data":{"values":[{}]},"mark":{"type":"text","align":"center","baseline":"middle","color":"#000000"},"encoding":{"x":{"datum":46.7,"type":"quantitative"},"y":{"datum":49622,"type":"quantitative"},"text":{"value":"47461"}}},
{"data":{"values":[{}]},"mark":{"type":"text","align":"left","baseline":"middle","color":"#dcdcdc"},"encoding":{"x":{"datum":-0.425,"type":"quantitative"},"y":{"datum":198490,"type":"quantitative"},"text":{"value":"Volume"}}},
{"data":{"values":[{}]},"mark":{"type":"text","align":"left","baseline":"middle","color":"#ffff00"},"encoding":{"x":{"datum":0.775,"type":"quantitative"},"y":{"datum":198490,"type":"quantitative"},"text":{"value":"Volume: 47461"}}}
]},
{"width":1870,"height":67,
"layer":[
{"data":{"name":"adx"},"mark":{"type":"line","color":"#00ff00","strokeWidth":1.5,"interpolate":"step-after"},
"encoding":{"x":{"field":"i","type":"quantitative","scale":{"domain":[-0.55,46.2],"nice":false,"zero":false},
"axis":{"orient":"bottom","values":[0,2,3,4,5,6,7,8,9,10,11,12,13,14,15,16,17,18,19,20,21,22,23,24,25,26,27,28,29,30,31,32,33,34,35,36,37,38,39,40,41,42,43,44,45],"labels":false,"ticks":true,"tickSize":4,"domain":true,"grid":false,"title":null}},
"y":{"field":"a","type":"quantitative","scale":{"domain":[14.44,68.47],"nice":false,"zero":false},"axis":{"orient":"right","values":[40],"format":".2f","title":null,"domain":true,"ticks":true,"labels":true,"grid":false}}}},
{"data":{"values":[{}]},"mark":{"type":"rule","color":"#ff2020","strokeDash":[1,2],"strokeWidth":1},"encoding":{"x":{"datum":0,"type":"quantitative"},"x2":{"datum":39},"y":{"datum":40,"type":"quantitative"}}},
{"data":{"values":[{}]},"mark":{"type":"rule","color":"#ff8c00","strokeDash":[1,2],"strokeWidth":1},"encoding":{"x":{"datum":0,"type":"quantitative"},"x2":{"datum":39},"y":{"datum":30,"type":"quantitative"}}},
{"data":{"values":[{}]},"mark":{"type":"rect","color":"#00ff00"},"encoding":{"x":{"datum":46.3,"type":"quantitative"},"x2":{"datum":47.02},"y":{"datum":28.7,"type":"quantitative"},"y2":{"datum":19.3}}},
{"data":{"values":[{}]},"mark":{"type":"text","align":"center","baseline":"middle","color":"#000000"},"encoding":{"x":{"datum":46.66,"type":"quantitative"},"y":{"datum":23.95,"type":"quantitative"},"text":{"value":"21.43"}}},
{"data":{"values":[{}]},"mark":{"type":"text","align":"left","baseline":"middle","color":"#dcdcdc"},"encoding":{"x":{"datum":-0.425,"type":"quantitative"},"y":{"datum":63.6,"type":"quantitative"},"text":{"value":"ADX"}}},
{"data":{"values":[{}]},"mark":{"type":"text","align":"left","baseline":"middle","color":"#00ff00"},"encoding":{"x":{"datum":0.3375,"type":"quantitative"},"y":{"datum":63.6,"type":"quantitative"},"text":{"value":"ADX: 21.43"}}},
{"data":{"values":[{}]},"mark":{"type":"text","align":"left","baseline":"middle","color":"#dcdcdc"},"encoding":{"x":{"datum":1.925,"type":"quantitative"},"y":{"datum":63.6,"type":"quantitative"},"text":{"value":"(14, 14)  Horizontal Lines"}}},
{"data":{"values":[{}]},"mark":{"type":"text","align":"left","baseline":"middle","color":"#ff2020"},"encoding":{"x":{"datum":5.3125,"type":"quantitative"},"y":{"datum":63.6,"type":"quantitative"},"text":{"value":"Line1: 40"}}},
{"data":{"values":[{}]},"mark":{"type":"text","align":"left","baseline":"middle","color":"#ff8c00"},"encoding":{"x":{"datum":6.575,"type":"quantitative"},"y":{"datum":63.6,"type":"quantitative"},"text":{"value":"Line2: 30"}}},
{"data":{"values":[{}]},"mark":{"type":"text","align":"left","baseline":"middle","color":"#00ffff"},"encoding":{"x":{"datum":7.915,"type":"quantitative"},"y":{"datum":63.6,"type":"quantitative"},"text":{"value":"Line3: 15"}}}
]},
{"width":1870,"height":20,
"layer":[
{"data":{"name":"xl"},"transform":[{"filter":"datum.k=='d'"}],"mark":{"type":"bar","orient":"vertical","size":24,"color":"#d4d4d4"},
"encoding":{"x":{"field":"i","type":"quantitative","scale":{"domain":[-0.55,46.2],"nice":false,"zero":false},"axis":{"domain":false,"ticks":false,"labels":false,"grid":false,"title":null}},
"y":{"datum":0.1,"type":"quantitative","scale":{"domain":[0,1],"nice":false,"zero":false},"axis":{"domain":false,"ticks":false,"labels":false,"grid":false,"title":null}},"y2":{"datum":0.85}}},
{"data":{"values":[{}]},"mark":{"type":"rect","color":"#d4d4d4"},"encoding":{"x":{"datum":0.025,"type":"quantitative"},"x2":{"datum":1.325},"y":{"datum":0.1,"type":"quantitative"},"y2":{"datum":0.85}}},
{"data":{"name":"xl"},"transform":[{"filter":"datum.k=='d'"}],"mark":{"type":"text","align":"center","baseline":"middle","color":"#202020"},
"encoding":{"x":{"field":"i","type":"quantitative"},"y":{"datum":0.47,"type":"quantitative"},"text":{"field":"t"}}},
{"data":{"values":[{}]},"mark":{"type":"text","align":"center","baseline":"middle","color":"#202020"},"encoding":{"x":{"datum":0.675,"type":"quantitative"},"y":{"datum":0.47,"type":"quantitative"},"text":{"value":"2025-5-13"}}},
{"data":{"name":"xl"},"transform":[{"filter":"datum.k=='t'"}],"mark":{"type":"text","align":"center","baseline":"middle","color":"#c4d6f4"},
"encoding":{"x":{"field":"i","type":"quantitative"},"y":{"datum":0.47,"type":"quantitative"},"text":{"field":"t"}}},
{"data":{"values":[{}]},"mark":{"type":"rect","color":"#ff0000"},"encoding":{"x":{"datum":46.65,"type":"quantitative"},"x2":{"datum":47.4},"y":{"datum":0.1,"type":"quantitative"},"y2":{"datum":0.85}}},
{"data":{"values":[{}]},"mark":{"type":"text","align":"center","baseline":"middle","color":"#ffffff"},"encoding":{"x":{"datum":47.025,"type":"quantitative"},"y":{"datum":0.47,"type":"quantitative"},"text":{"value":"39 L"}}}
]}
]
}
